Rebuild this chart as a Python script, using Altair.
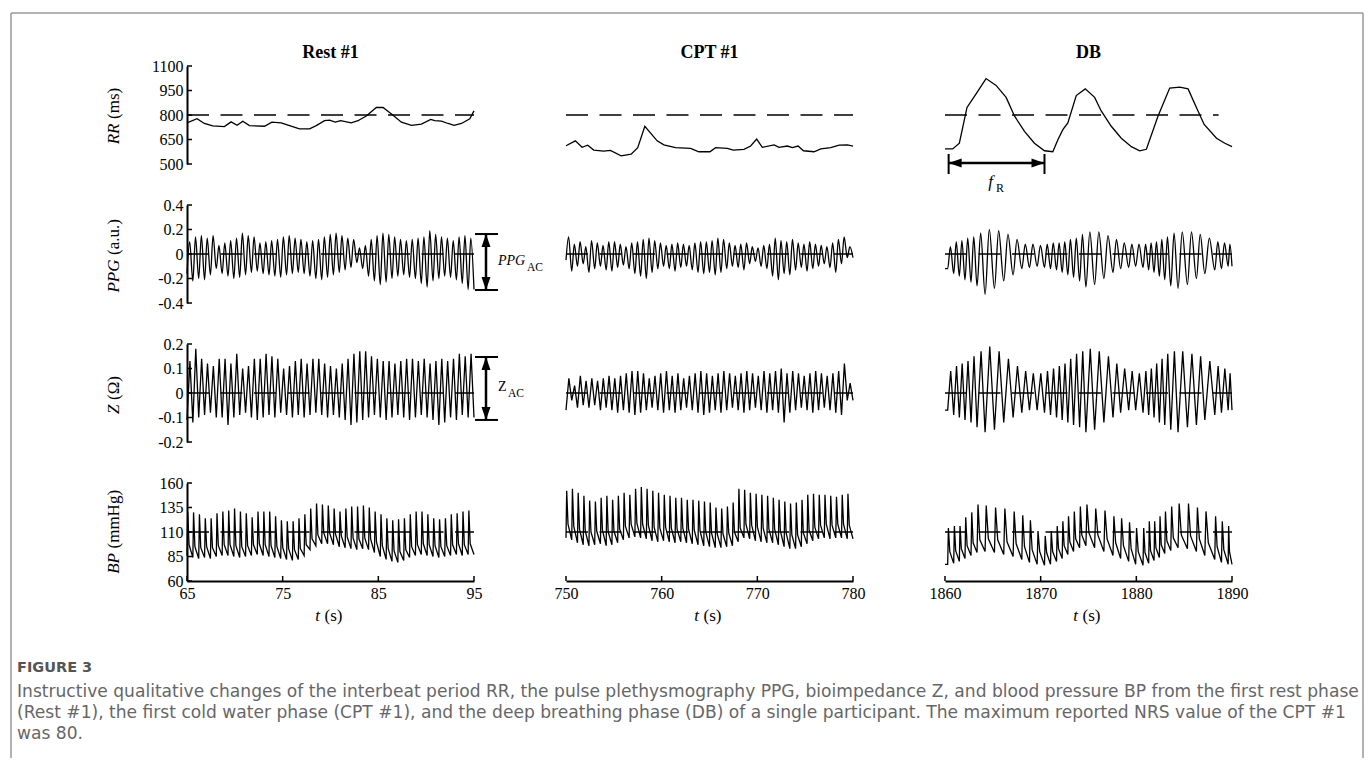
import altair as alt
import numpy as np
import pandas as pd

SERIF = "Liberation Serif"
CAP_FONT = "DejaVu Sans"
W, H = 287, 98

phase_titles = ["Rest #1", "CPT #1", "DB"]
x_domains = [[65, 95], [750, 780], [1860, 1890]]
x_ticks = [[65, 75, 85, 95], [750, 760, 770, 780], [1860, 1870, 1880, 1890]]

rows = ["RR", "PPG", "Z", "BP"]
y_domains = {"RR": [500, 1100], "PPG": [-0.4, 0.4], "Z": [-0.2, 0.2], "BP": [60, 160]}
y_ticks = {"RR": [500, 650, 800, 950, 1100], "PPG": [-0.4, -0.2, 0, 0.2, 0.4],
           "Z": [-0.2, -0.1, 0, 0.1, 0.2], "BP": [60, 85, 110, 135, 160]}
ref_levels = {"RR": 800, "PPG": 0, "Z": 0, "BP": 110}

# ---------------- RR interbeat period (ms) ----------------
rr_rest_t = [65.00, 66.05, 66.81, 67.69, 68.91, 69.61, 70.24, 70.83, 71.53, 73.10, 73.87, 74.84, 75.72,
             76.76, 77.81, 78.51, 79.38, 79.90, 80.50, 81.06, 82.17, 82.87, 83.74, 84.79, 85.49, 86.54,
             87.41, 88.46, 89.50, 90.48, 90.90, 91.60, 92.29, 92.92, 93.69, 94.56, 95.00]
rr_rest_v = [752, 777, 748, 733, 729, 758, 737, 762, 735, 731, 756, 752, 735, 715, 715, 735, 765, 769,
             756, 765, 752, 765, 794, 846, 846, 798, 756, 737, 744, 773, 765, 762, 748, 737, 748, 777, 825]
rr_cpt_t = [750.00, 750.98, 751.68, 752.27, 752.90, 753.94, 754.64, 755.76, 756.81, 757.50, 758.24,
            759.53, 760.23, 761.45, 763.02, 763.89, 765.04, 765.64, 766.86, 767.49, 768.60, 769.30,
            769.93, 770.52, 771.75, 772.27, 773.14, 773.66, 774.26, 774.82, 775.93, 776.63, 777.68,
            778.55, 779.42, 780.00]
rr_cpt_v = [612, 642, 602, 615, 585, 579, 583, 550, 560, 600, 731, 642, 617, 600, 596, 575, 575, 600,
            596, 585, 590, 610, 652, 602, 617, 602, 610, 600, 610, 581, 575, 592, 600, 615, 617, 610]
rr_db_t = [1860.00, 1860.80, 1861.50, 1862.30, 1863.25, 1864.29, 1865.34, 1866.39, 1867.26, 1868.31,
           1869.35, 1870.40, 1871.27, 1871.80, 1872.32, 1872.84, 1873.72, 1874.66, 1875.64, 1876.33,
           1877.38, 1878.43, 1879.48, 1880.35, 1881.05, 1882.27, 1883.49, 1884.54, 1885.41, 1886.28,
           1887.09, 1888.38, 1889.25, 1890.00]
rr_db_v = [592, 592, 627, 846, 929, 1023, 981, 908, 794, 700, 627, 581, 575, 648, 710, 752, 919, 960,
           908, 825, 731, 658, 606, 581, 590, 794, 965, 971, 960, 846, 742, 658, 627, 606]

# ---------------- beat onsets (s) ----------------
rest_beats = np.linspace(65, 95, 49, endpoint=False)
cpt_beats = np.linspace(750, 780, 50, endpoint=False)
db_beats = [1860.28, 1860.91, 1861.50, 1862.09, 1862.72, 1863.35, 1864.19, 1865.17, 1866.14, 1867.12,
            1868.03, 1868.83, 1869.63, 1870.40, 1871.03, 1871.66, 1872.25, 1872.84, 1873.44, 1874.07,
            1874.73, 1875.64, 1876.61, 1877.56, 1878.36, 1879.20, 1879.93, 1880.70, 1881.29, 1881.85,
            1882.41, 1882.97, 1883.60, 1884.36, 1885.34, 1886.28, 1887.16, 1888.20, 1888.90, 1889.60]

# ---------------- PPG (a.u.) per beat ----------------
ppg_rest_peak = [0.10, 0.14, 0.15, 0.13, 0.15, 0.07, 0.09, 0.11, 0.13, 0.17, 0.15, 0.14,
                 0.09, 0.10, 0.11, 0.12, 0.14, 0.15, 0.13, 0.12, 0.10, 0.11, 0.12, 0.14,
                 0.16, 0.17, 0.15, 0.13, 0.12, 0.05, 0.07, 0.12, 0.15, 0.17, 0.16, 0.14,
                 0.12, 0.11, 0.12, 0.13, 0.14, 0.19, 0.16, 0.14, 0.13, 0.11, 0.14, 0.15, 0.13]
ppg_rest_trough = [-0.16, -0.22, -0.20, -0.21, -0.17, -0.12, -0.16, -0.18, -0.20, -0.19, -0.17, -0.15,
                   -0.14, -0.16, -0.17, -0.18, -0.19, -0.17, -0.16, -0.15, -0.16, -0.18, -0.20, -0.21,
                   -0.19, -0.17, -0.15, -0.13, -0.11, -0.07, -0.12, -0.18, -0.22, -0.25, -0.23, -0.20,
                   -0.18, -0.17, -0.19, -0.20, -0.24, -0.27, -0.22, -0.20, -0.18, -0.19, -0.21, -0.24, -0.29]
ppg_cpt_peak = [0.14, 0.08, 0.10, 0.06, 0.11, 0.09, 0.07, 0.10, 0.10, 0.08,
                0.06, 0.09, 0.10, 0.12, 0.13, 0.11, 0.09, 0.07, 0.08, 0.09,
                0.08, 0.07, 0.09, 0.10, 0.10, 0.11, 0.13, 0.12, 0.09, 0.07,
                0.08, 0.09, 0.06, 0.05, 0.07, 0.08, 0.13, 0.11, 0.10, 0.12,
                0.09, 0.08, 0.10, 0.08, 0.07, 0.06, 0.09, 0.12, 0.14, 0.06]
ppg_cpt_trough = [-0.05, -0.14, -0.10, -0.08, -0.15, -0.12, -0.10, -0.13, -0.14, -0.11,
                  -0.09, -0.12, -0.16, -0.18, -0.20, -0.15, -0.12, -0.10, -0.12, -0.14,
                  -0.11, -0.10, -0.13, -0.15, -0.16, -0.15, -0.17, -0.15, -0.12, -0.10,
                  -0.11, -0.13, -0.08, -0.06, -0.10, -0.12, -0.18, -0.21, -0.16, -0.17,
                  -0.13, -0.11, -0.14, -0.12, -0.10, -0.08, -0.11, -0.15, -0.08, -0.03]
ppg_db_peak = [0.06, 0.10, 0.11, 0.13, 0.14, 0.17, 0.20, 0.19, 0.16, 0.12,
               0.08, 0.08, 0.07, 0.08, 0.09, 0.09, 0.10, 0.12, 0.13, 0.16,
               0.18, 0.18, 0.15, 0.12, 0.09, 0.08, 0.08, 0.08, 0.09, 0.10,
               0.12, 0.14, 0.17, 0.18, 0.18, 0.16, 0.13, 0.10, 0.09, 0.08]
ppg_db_trough = [-0.12, -0.16, -0.18, -0.21, -0.23, -0.26, -0.33, -0.28, -0.22, -0.17,
                 -0.12, -0.11, -0.10, -0.11, -0.12, -0.13, -0.15, -0.17, -0.19, -0.22,
                 -0.27, -0.25, -0.20, -0.15, -0.12, -0.11, -0.10, -0.11, -0.13, -0.15,
                 -0.18, -0.21, -0.26, -0.28, -0.25, -0.20, -0.16, -0.13, -0.12, -0.10]

# ---------------- Z (Ohm) per beat ----------------
z_rest_peak = [0.13, 0.18, 0.14, 0.12, 0.11, 0.14, 0.14, 0.12, 0.16, 0.10, 0.11, 0.14,
               0.14, 0.16, 0.15, 0.14, 0.10, 0.11, 0.13, 0.14, 0.12, 0.14, 0.14, 0.12,
               0.11, 0.10, 0.12, 0.14, 0.16, 0.17, 0.17, 0.15, 0.14, 0.13, 0.13, 0.12,
               0.13, 0.14, 0.14, 0.13, 0.14, 0.12, 0.13, 0.14, 0.13, 0.14, 0.16, 0.15, 0.16]
z_rest_trough = [-0.11, -0.12, -0.10, -0.09, -0.08, -0.10, -0.10, -0.13, -0.10, -0.09, -0.08, -0.10,
                 -0.11, -0.10, -0.09, -0.10, -0.08, -0.09, -0.10, -0.09, -0.10, -0.09, -0.08, -0.09,
                 -0.10, -0.09, -0.10, -0.11, -0.13, -0.12, -0.11, -0.10, -0.09, -0.10, -0.11, -0.10,
                 -0.09, -0.10, -0.11, -0.10, -0.09, -0.10, -0.11, -0.13, -0.12, -0.10, -0.11, -0.09, -0.10]
z_cpt_peak = [0.06, 0.03, 0.07, 0.05, 0.06, 0.05, 0.06, 0.07, 0.06, 0.07,
              0.08, 0.09, 0.09, 0.08, 0.06, 0.07, 0.08, 0.09, 0.07, 0.08,
              0.06, 0.07, 0.08, 0.09, 0.08, 0.07, 0.08, 0.09, 0.08, 0.07,
              0.08, 0.09, 0.08, 0.07, 0.09, 0.08, 0.09, 0.10, 0.08, 0.09,
              0.08, 0.07, 0.08, 0.09, 0.08, 0.07, 0.08, 0.09, 0.12, 0.04]
z_cpt_trough = [-0.07, -0.03, -0.06, -0.05, -0.06, -0.05, -0.07, -0.06, -0.07, -0.08,
                -0.07, -0.08, -0.09, -0.08, -0.07, -0.06, -0.07, -0.08, -0.07, -0.08,
                -0.07, -0.06, -0.07, -0.08, -0.09, -0.08, -0.07, -0.08, -0.07, -0.06,
                -0.07, -0.08, -0.07, -0.06, -0.07, -0.08, -0.07, -0.08, -0.12, -0.08,
                -0.07, -0.06, -0.07, -0.08, -0.07, -0.06, -0.07, -0.08, -0.09, -0.03]
z_db_peak = [0.09, 0.11, 0.12, 0.13, 0.15, 0.17, 0.19, 0.17, 0.14, 0.11,
             0.09, 0.08, 0.08, 0.09, 0.10, 0.11, 0.12, 0.14, 0.16, 0.17,
             0.18, 0.17, 0.15, 0.12, 0.10, 0.09, 0.08, 0.09, 0.10, 0.12,
             0.14, 0.16, 0.17, 0.17, 0.16, 0.15, 0.13, 0.11, 0.10, 0.08]
z_db_trough = [-0.07, -0.09, -0.10, -0.11, -0.12, -0.14, -0.16, -0.15, -0.12, -0.10,
               -0.08, -0.07, -0.07, -0.08, -0.09, -0.10, -0.11, -0.12, -0.13, -0.14,
               -0.16, -0.15, -0.12, -0.10, -0.08, -0.07, -0.07, -0.08, -0.09, -0.10,
               -0.12, -0.13, -0.15, -0.16, -0.14, -0.13, -0.11, -0.09, -0.08, -0.07]

# ---------------- BP (mmHg) per beat: systolic, diastolic, dicrotic notch ----------------
bp_rest_sys = [131, 130, 128, 124, 124, 129, 131, 132, 134, 131, 129, 125, 131, 131, 131, 126, 122,
               121, 121, 124, 128, 134, 139, 138, 137, 134, 131, 134, 136, 136, 137, 135, 131, 128,
               124, 122, 123, 124, 128, 131, 131, 128, 124, 123, 124, 128, 129, 131, 132]
bp_rest_dia = [86, 84, 83, 84, 83, 85, 86, 86, 85, 84, 85, 86, 87, 86, 85, 84, 83, 82, 81, 82, 86,
               92, 96, 98, 98, 97, 95, 94, 93, 92, 93, 92, 89, 85, 82, 80, 79, 81, 84, 86, 87, 86,
               85, 84, 85, 86, 87, 86, 87]
bp_rest_notch = [97, 95, 94, 95, 94, 96, 97, 97, 96, 95, 96, 97, 98, 97, 96, 95, 94, 93, 92, 93, 97,
                 103, 107, 109, 109, 108, 106, 105, 104, 103, 104, 103, 100, 96, 93, 91, 90, 92, 95,
                 97, 98, 97, 96, 95, 96, 97, 98, 97, 98]
bp_cpt_sys = [152, 154, 150, 147, 142, 141, 145, 147, 143, 147, 150, 148, 154, 156, 154, 152, 150,
              148, 147, 145, 145, 143, 143, 142, 141, 140, 135, 134, 136, 140, 154, 153, 150, 149,
              148, 147, 145, 143, 141, 139, 140, 143, 148, 149, 148, 148, 147, 146, 148, 149]
bp_cpt_dia = [104, 102, 99, 97, 96, 97, 98, 96, 97, 99, 102, 104, 105, 104, 103, 101, 100, 101, 100,
              99, 100, 99, 98, 97, 96, 95, 94, 94, 95, 96, 100, 104, 103, 101, 100, 99, 99, 97, 95,
              93, 93, 95, 98, 101, 103, 104, 103, 104, 104, 103]
bp_cpt_notch = [118, 116, 113, 111, 110, 111, 112, 110, 111, 113, 116, 118, 119, 118, 117, 115, 114,
                115, 114, 113, 114, 113, 112, 111, 110, 109, 108, 108, 109, 110, 114, 118, 117, 115,
                114, 113, 113, 111, 109, 107, 107, 109, 112, 115, 117, 118, 117, 118, 118, 117]
bp_db_sys = [114, 116, 116, 125, 130, 138, 137, 135, 134, 131, 127, 122, 111, 106, 111, 116, 121,
             126, 131, 136, 138, 134, 132, 126, 124, 120, 114, 114, 121, 121, 126, 131, 136, 139,
             139, 135, 131, 126, 121, 116]
bp_db_dia = [77, 78, 80, 83, 86, 89, 90, 89, 87, 85, 82, 79, 77, 76, 77, 80, 83, 87, 90, 94, 96, 94,
             90, 86, 83, 80, 77, 76, 78, 81, 84, 88, 91, 94, 93, 90, 86, 82, 79, 77]
bp_db_notch = [90, 91, 93, 96, 99, 102, 103, 102, 100, 98, 95, 92, 90, 89, 90, 93, 96, 100, 103, 107,
               109, 107, 103, 99, 96, 93, 90, 89, 91, 94, 97, 101, 104, 107, 106, 103, 99, 95, 92, 90]

CAPTION_HEAD = "FIGURE 3"
CAPTION_LINES = [
    "Instructive qualitative changes of the interbeat period RR, the pulse plethysmography PPG, bioimpedance Z, and blood pressure BP from the first rest phase",
    "(Rest #1), the first cold water phase (CPT #1), and the deep breathing phase (DB) of a single participant. The maximum reported NRS value of the CPT #1",
    "was 80.",
]


def build_wave(starts, t0, t1, template):
    """Place each beat's read extrema at fixed phases of the beat."""
    starts = list(starts)
    n = len(starts)
    ts, vs = [], []
    if starts[0] > t0 + 1e-9:
        ts.append(t0)
        vs.append(template[0][1][0])
    for i, s in enumerate(starts):
        T = (starts[i + 1] if i + 1 < n else t1) - s
        for frac, vals in template:
            tt = s + frac * T
            if tt < t1 - 1e-9:
                ts.append(tt)
                vs.append(vals[i])
    ts.append(t1)
    vs.append(template[0][1][-1])
    return pd.DataFrame({"t": ts, "v": vs})


beats = [rest_beats, cpt_beats, db_beats]
ppg = [(ppg_rest_trough, ppg_rest_peak), (ppg_cpt_trough, ppg_cpt_peak), (ppg_db_trough, ppg_db_peak)]
zz = [(z_rest_trough, z_rest_peak), (z_cpt_trough, z_cpt_peak), (z_db_trough, z_db_peak)]
bp = [(bp_rest_dia, bp_rest_sys, bp_rest_notch), (bp_cpt_dia, bp_cpt_sys, bp_cpt_notch),
      (bp_db_dia, bp_db_sys, bp_db_notch)]
rr = [(rr_rest_t, rr_rest_v), (rr_cpt_t, rr_cpt_v), (rr_db_t, rr_db_v)]

signals = {}
for c in range(3):
    t0, t1 = x_domains[c]
    signals[("RR", c)] = pd.DataFrame({"t": rr[c][0], "v": rr[c][1]})
    signals[("PPG", c)] = build_wave(beats[c], t0, t1, [(0.0, ppg[c][0]), (0.45, ppg[c][1])])
    signals[("Z", c)] = build_wave(beats[c], t0, t1, [(0.0, zz[c][0]), (0.5, zz[c][1])])
    signals[("BP", c)] = build_wave(beats[c], t0, t1, [(0.0, bp[c][0]), (0.12, bp[c][1]), (0.35, bp[c][2])])

ref_end = [95, 780, 1888.6]


def txt(s, x, y, size=17, style="normal", weight="normal", align="left", baseline="middle",
        angle=0, font=SERIF, color="black"):
    kw = dict(font=font, fontSize=size, fontStyle=style, fontWeight=weight, align=align,
              baseline=baseline, color=color)
    if angle:
        kw["angle"] = angle
    return alt.Chart(pd.DataFrame({"s": [s]})).mark_text(**kw).encode(
        x=alt.value(x), y=alt.value(y), text="s:N")


def arrow_head(path, size=100):
    return dict(shape=path, filled=True, size=size, color="black", opacity=1, strokeWidth=0)


UP = "M0,0L0.9,2.6L-0.9,2.6Z"
DOWN = "M0,0L0.9,-2.6L-0.9,-2.6Z"
LEFT = "M0,0L2.6,-0.9L2.6,0.9Z"
RIGHT = "M0,0L-2.6,-0.9L-2.6,0.9Z"

# italic symbol, unit text, anchor between them (rotated titles read bottom-to-top)
ytitle = {"RR": ("RR", "(ms)", 57.5), "PPG": ("PPG", "(a.u.)", 54.5),
          "Z": ("Z", "(\u03a9)", 60.5), "BP": ("BP", "(mmHg)", 70.0)}


def panel(r, c):
    row = rows[r]
    sx = alt.Scale(domain=x_domains[c], nice=False, zero=False)
    sy = alt.Scale(domain=y_domains[row], nice=False, zero=False)
    label_kw = dict(labelFont=SERIF, labelFontSize=16, labelColor="black", labelPadding=4,
                    ticks=False, tickSize=0, domainWidth=2, domainColor="black", grid=False,
                    labelFlush=False, labelOverlap=False, labelExpr="'' + datum.value", title=None)
    xaxis = alt.Axis(values=x_ticks[c], **label_kw) if r == 3 else None
    yaxis = alt.Axis(values=y_ticks[row], **label_kw) if c == 0 else None

    def X(field):
        return alt.X(field, scale=sx, axis=xaxis)

    def Y(field):
        return alt.Y(field, scale=sy, axis=yaxis)

    interp = "monotone" if row == "PPG" else "linear"
    layers = [alt.Chart(signals[(row, c)]).mark_line(color="black", strokeWidth=1.3, interpolate=interp)
              .encode(x=X("t:Q"), y=Y("v:Q"))]
    # dashed reference level
    ref_df = pd.DataFrame({"x1": [x_domains[c][0]], "x2": [ref_end[c] if row == "RR" else x_domains[c][1]],
                           "y": [ref_levels[row]]})
    layers.append(alt.Chart(ref_df).mark_rule(color="black", strokeWidth=1.5, strokeDash=[22, 11.5])
                  .encode(x=X("x1:Q"), x2="x2:Q", y=Y("y:Q")))
    # inward ticks
    if c == 0:
        layers.append(alt.Chart(pd.DataFrame({"v": y_ticks[row]})).mark_rule(color="black", strokeWidth=1.5)
                      .encode(y=Y("v:Q"), x=alt.value(0), x2=alt.value(5)))
        it, nt, ya = ytitle[row]
        layers.append(txt(it, -73, ya, style="italic", align="right", angle=270))
        layers.append(txt(nt, -73, ya - 4.5, align="left", angle=270))
    if r == 3:
        layers.append(alt.Chart(pd.DataFrame({"v": x_ticks[c]})).mark_rule(color="black", strokeWidth=1.5)
                      .encode(x=X("v:Q"), y=alt.value(H), y2=alt.value(H - 5)))
        layers.append(txt("t", 133, 133, style="italic", align="right"))
        layers.append(txt("(s)", 137.5, 133, align="left"))
    if r == 0:
        layers.append(txt(phase_titles[c], W / 2, -13, size=18, weight="bold", align="center"))
    # annotations
    if (row in ("PPG", "Z")) and c == 0:
        top, bot = (0.163, -0.294) if row == "PPG" else (0.147, -0.110)
        layers.append(alt.Chart(pd.DataFrame({"a": [top], "b": [bot]})).mark_rule(color="black", strokeWidth=2.5)
                      .encode(x=alt.value(299), y=Y("a:Q"), y2="b:Q"))
        layers.append(alt.Chart(pd.DataFrame({"v": [top, bot]})).mark_rule(color="black", strokeWidth=2)
                      .encode(x=alt.value(288), x2=alt.value(311), y=Y("v:Q")))
        layers.append(alt.Chart(pd.DataFrame({"v": [top]})).mark_point(**arrow_head(UP))
                      .encode(x=alt.value(299), y=Y("v:Q")))
        layers.append(alt.Chart(pd.DataFrame({"v": [bot]})).mark_point(**arrow_head(DOWN))
                      .encode(x=alt.value(299), y=Y("v:Q")))
        if row == "PPG":
            layers.append(txt("PPG", 311, 56, size=14, style="italic"))
            layers.append(txt("AC", 340, 63, size=11.5))
        else:
            layers.append(txt("Z", 311, 43, size=14))
            layers.append(txt("AC", 321, 50, size=11.5))
    if row == "RR" and c == 2:
        fr = pd.DataFrame({"a": [1860.38], "b": [1870.40]})
        layers.append(alt.Chart(fr).mark_rule(color="black", strokeWidth=2.5)
                      .encode(x=X("a:Q"), x2="b:Q", y=alt.value(97)))
        layers.append(alt.Chart(pd.DataFrame({"v": [1860.38, 1870.40]})).mark_rule(color="black", strokeWidth=2)
                      .encode(x=X("v:Q"), y=alt.value(88), y2=alt.value(108)))
        layers.append(alt.Chart(pd.DataFrame({"v": [1860.38]})).mark_point(**arrow_head(LEFT))
                      .encode(x=X("v:Q"), y=alt.value(97)))
        layers.append(alt.Chart(pd.DataFrame({"v": [1870.40]})).mark_point(**arrow_head(RIGHT))
                      .encode(x=X("v:Q"), y=alt.value(97)))
        layers.append(txt("f", 45.5, 116, size=17, style="italic", align="center"))
        layers.append(txt("R", 51, 122, size=12))
    if r == 0 and c == 0:
        # figure frame and caption
        frame = [(-176, 1176, -53, -53), (-176, -176, -53, 692), (1176, 1176, -53, 692)]
        for (xa, xb, ya_, yb) in frame:
            layers.append(alt.Chart(pd.DataFrame({"k": [0]})).mark_rule(color="#9a9a9a", strokeWidth=1.5)
                          .encode(x=alt.value(xa), x2=alt.value(xb), y=alt.value(ya_), y2=alt.value(yb)))
        layers.append(txt(CAPTION_HEAD, -170, 602, size=14.5, weight="bold", font=CAP_FONT, color="#555555"))
        for i, line in enumerate(CAPTION_LINES):
            layers.append(txt(line, -170, 626 + 21 * i, size=17.1, font=CAP_FONT, color="#666666"))
    return alt.layer(*layers).properties(width=W, height=H)


chart = alt.concat(*[panel(r, c) for r in range(4) for c in range(3)], columns=3,
                   spacing={"row": 41, "column": 92}, bounds="flush").properties(
    padding={"left": 2, "top": 4, "right": 0, "bottom": 0}).configure_view(stroke=None)

chart.save("out.html", embed_options={"renderer": "svg", "actions": False})
